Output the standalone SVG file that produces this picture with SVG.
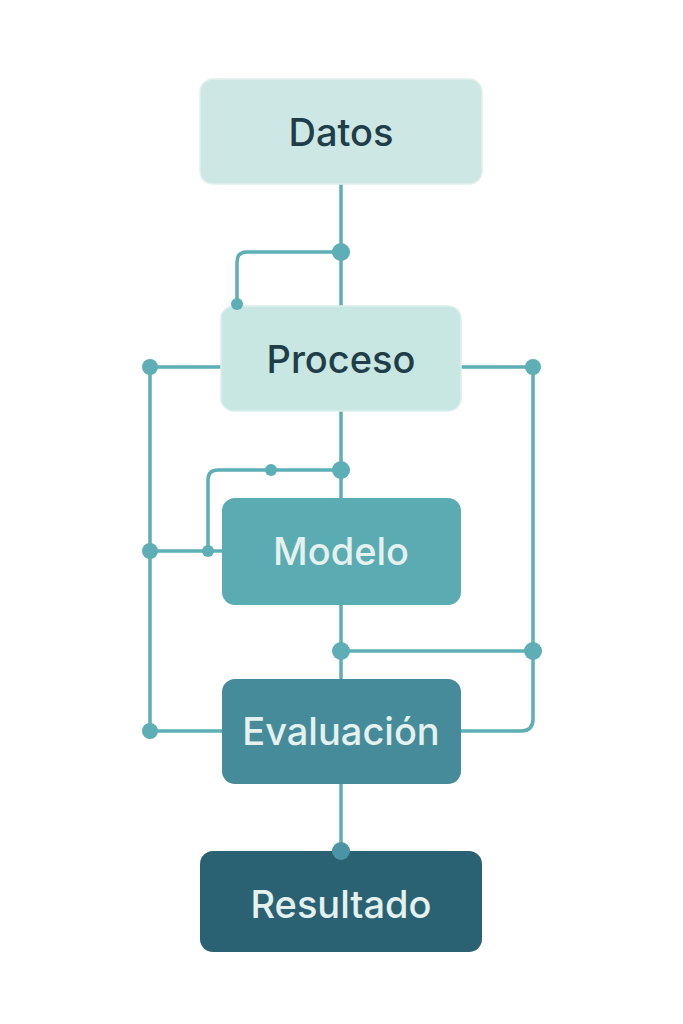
<svg xmlns="http://www.w3.org/2000/svg" width="683" height="1024" viewBox="0 0 683 1024">
<style>
.ln{fill:none;stroke:#5eaeb6;stroke-width:3.5;stroke-linejoin:round}
.dot{fill:#5eaeb6}
.lbl{font-family:Inter,"Liberation Sans",sans-serif;font-size:38px;font-weight:500;text-anchor:middle;dominant-baseline:central}
.dark{fill:#1f3e48}
.light{fill:#e4f1ee}
</style>
<rect width="683" height="1024" fill="#ffffff"/>
<g id="connectors">
<path class="ln" d="M341,184 V306"/>
<path class="ln" d="M341,252 H247 Q237,252 237,262 V304"/>
<path class="ln" d="M341,411 V498"/>
<path class="ln" d="M341,470 H218 Q208,470 208,480 V551"/>
<path class="ln" d="M341,605 V679"/>
<path class="ln" d="M341,651 H533"/>
<path class="ln" d="M341,784 V851"/>
<path class="ln" d="M221,367 H150 V731 H222"/>
<path class="ln" d="M150,551 H222"/>
<path class="ln" d="M461,367 H533 V719 Q533,731 521,731 H461"/>
<circle class="dot" cx="341" cy="252" r="9"/>
<circle class="dot" cx="341" cy="470" r="9"/>
<circle class="dot" cx="271" cy="470" r="6"/>
<circle class="dot" cx="208" cy="551" r="6"/>
<circle class="dot" cx="150" cy="367" r="8"/>
<circle class="dot" cx="150" cy="551" r="8"/>
<circle class="dot" cx="150" cy="731" r="8"/>
<circle class="dot" cx="533" cy="367" r="8"/>
<circle class="dot" cx="533" cy="651" r="9"/>
<circle class="dot" cx="341" cy="651" r="9"/>
</g>
<g id="datos">
<rect x="200" y="79" width="282" height="105" rx="13" fill="#cde8e4" stroke="#dff0ec" stroke-width="1.5"/>
<text class="lbl dark" x="341" y="132">Datos</text>
</g>
<g id="proceso">
<rect x="221" y="306" width="240" height="105" rx="13" fill="#c8e6e2" stroke="#dcefeb" stroke-width="1.5"/>
<text class="lbl dark" x="341" y="359">Proceso</text>
</g>
<g id="modelo">
<rect x="222" y="498" width="239" height="107" rx="13" fill="#5aabb2"/>
<text class="lbl light" x="341" y="551">Modelo</text>
</g>
<g id="evaluacion">
<rect x="222" y="679" width="239" height="105" rx="13" fill="#468b9a"/>
<text class="lbl light" x="341" y="731">Evaluación</text>
</g>
<g id="resultado">
<rect x="200" y="851" width="282" height="101" rx="13" fill="#2b6273"/>
<text class="lbl light" x="341" y="904">Resultado</text>
</g>
<g id="connector-ends">
<circle cx="237" cy="304" r="6" fill="#5eaeb6"/>
<circle cx="341" cy="851" r="9" fill="#4a94a3"/>
</g>
</svg>
